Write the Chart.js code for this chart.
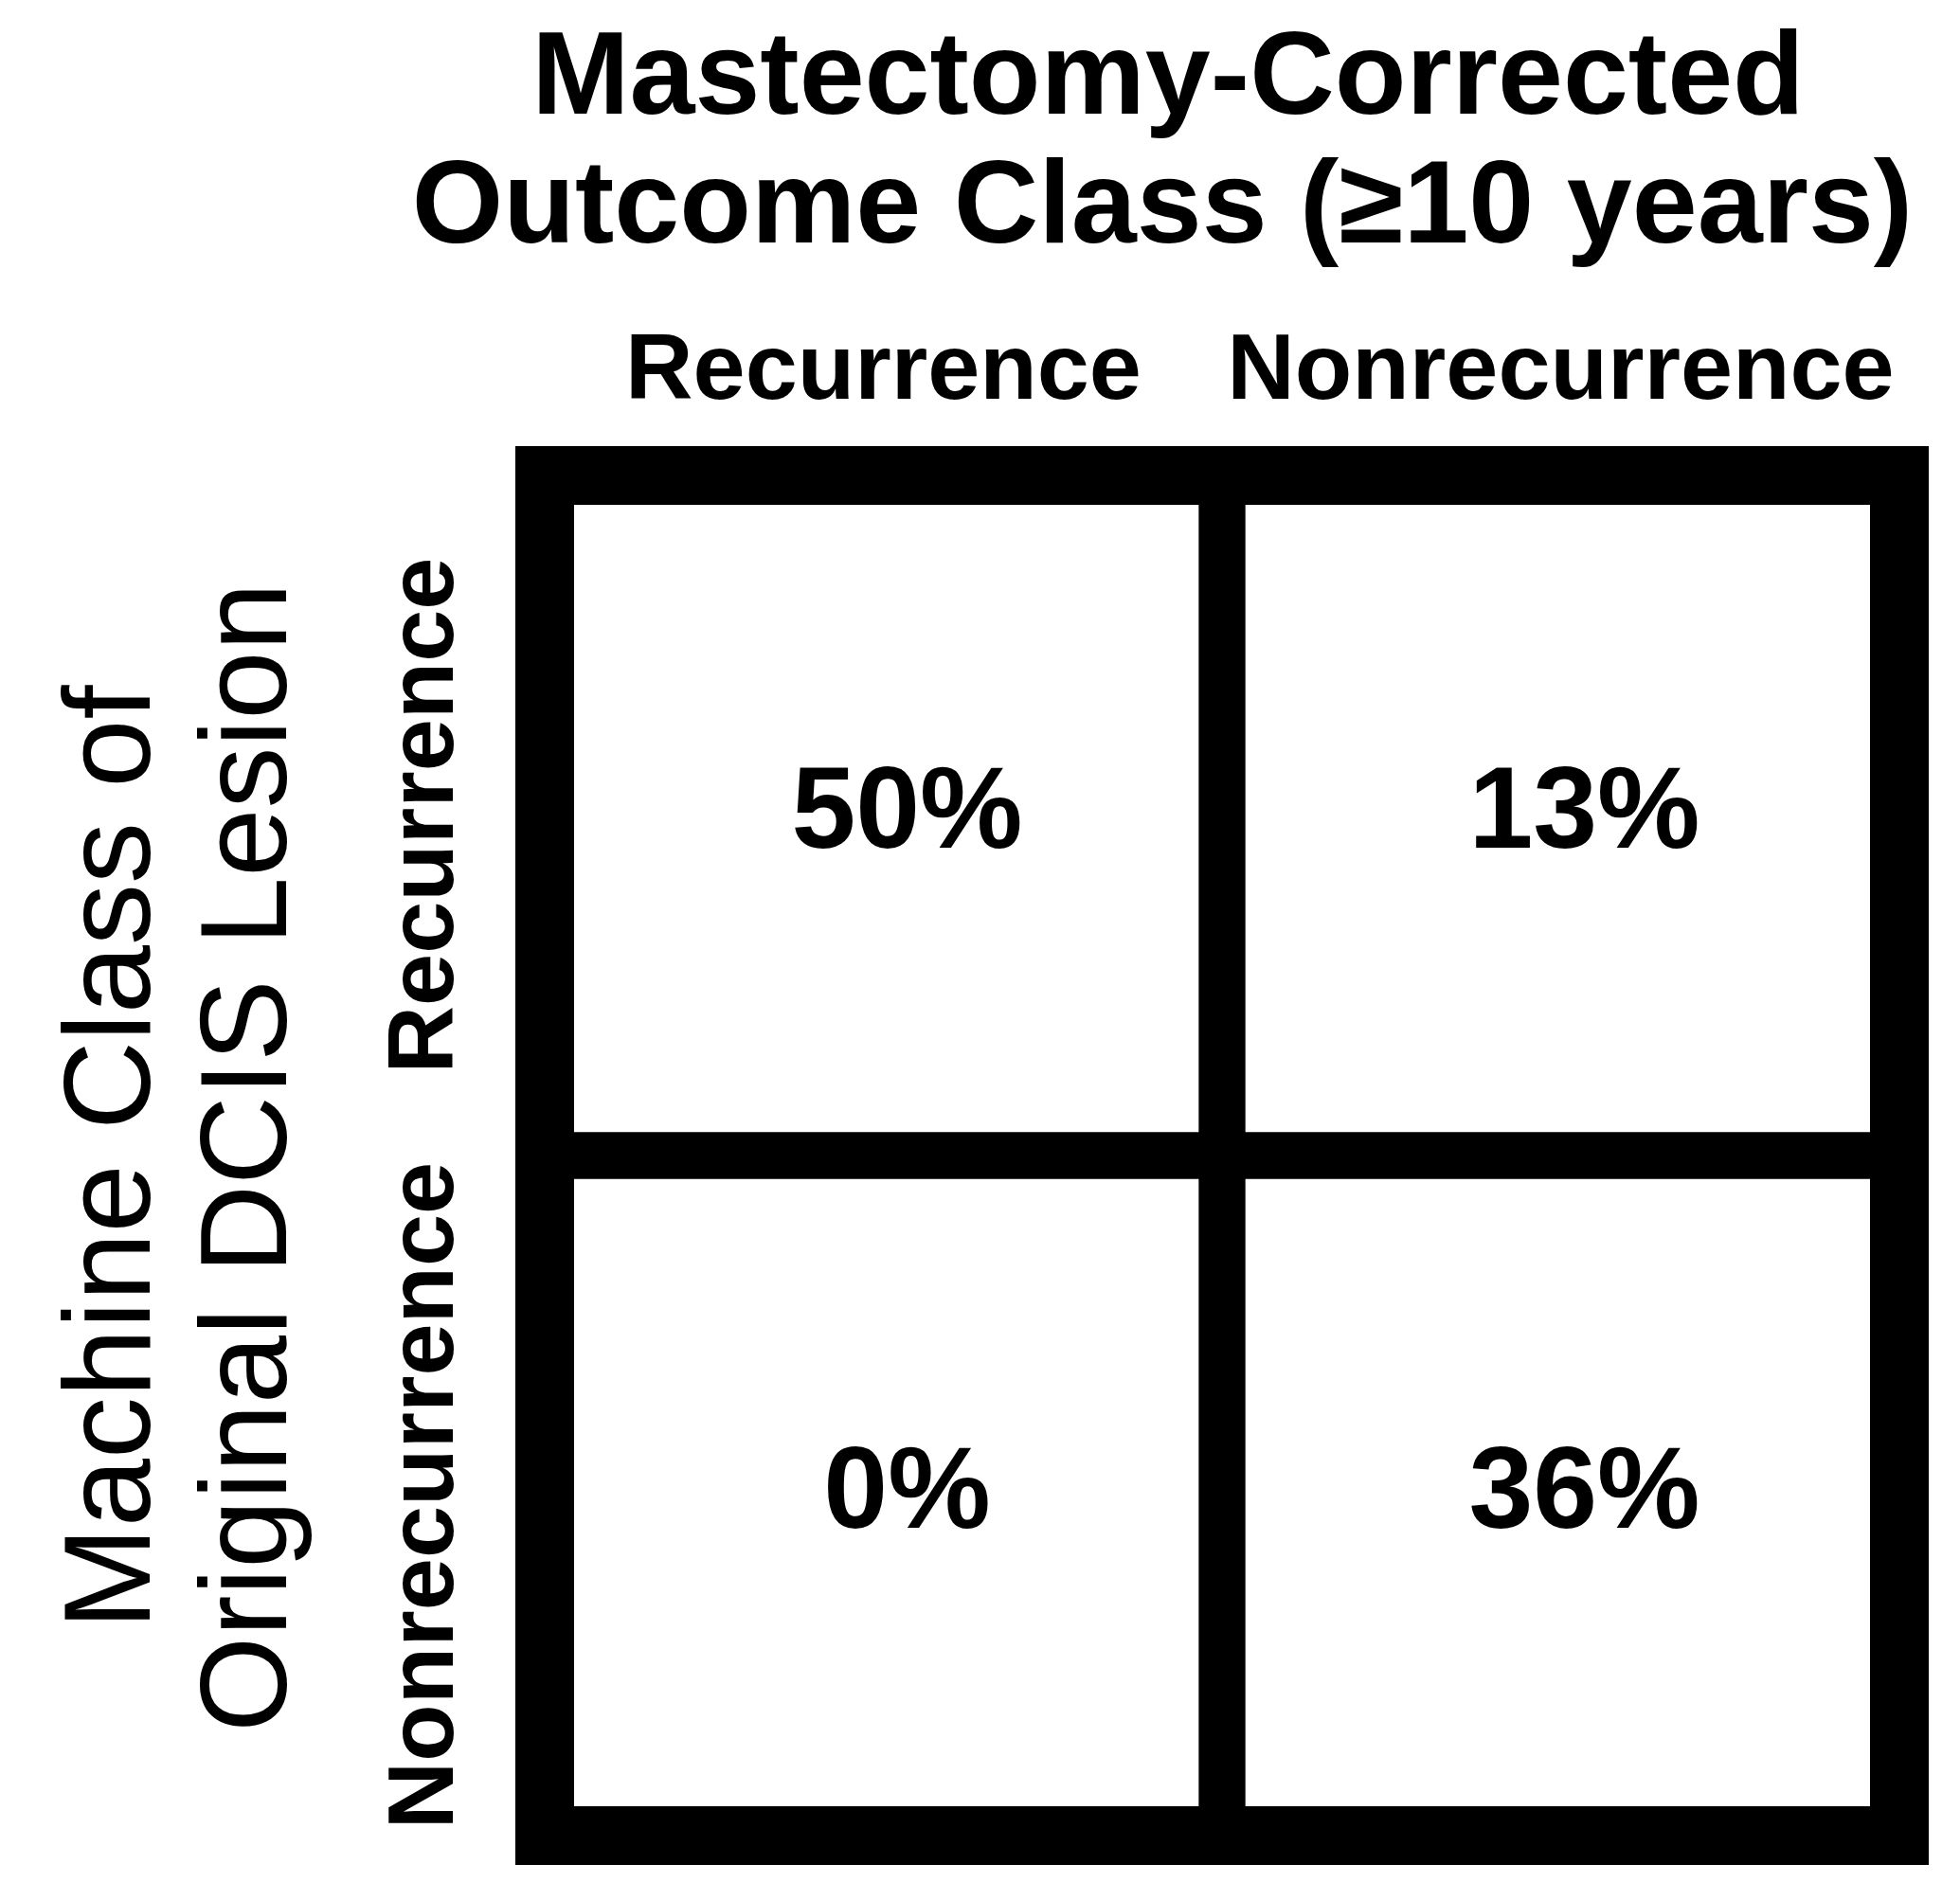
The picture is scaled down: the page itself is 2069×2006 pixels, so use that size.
<!DOCTYPE html>
<html>
<head>
<meta charset="utf-8">
<script src="https://cdn.jsdelivr.net/npm/chart.js@4"></script>
<style>
  html, body { margin: 0; padding: 0; background: #fff; }
  #wrap { width: 2069px; height: 2006px; }
</style>
</head>
<body>
<div id="wrap"><canvas id="cm"></canvas></div>
<script>
// ================= DATA =================
const outcomeClasses = ["Recurrence", "Nonrecurrence"];   // columns
const machineClasses = ["Recurrence", "Nonrecurrence"];   // rows, top to bottom
const recurrenceRow = [50, 13];      // machine: Recurrence
const nonrecurrenceRow = [0, 36];    // machine: Nonrecurrence

const FONT = "'Liberation Sans', Arial, sans-serif";

// ================= TEXT + FRAME PLUGIN =================
const confusionText = {
  id: "confusionText",
  afterDraw(chart) {
    const ctx = chart.ctx;
    const a = chart.chartArea;

    // outer frame
    ctx.save();
    ctx.strokeStyle = "#000";
    ctx.lineWidth = 62;
    ctx.strokeRect(a.left, a.top, a.right - a.left, a.bottom - a.top);

    ctx.fillStyle = "#000";
    ctx.textAlign = "center";
    ctx.textBaseline = "middle";

    // title
    ctx.font = "bold 124px " + FONT;
    ctx.fillText("Mastectomy-Corrected", 1233, 86);
    ctx.fillText("Outcome Class (\u226510 years)", 1227, 222);

    const xs = chart.scales.x;
    const ys = chart.scales.y;
    const colX = outcomeClasses.map((c, i) => xs.getPixelForValue(i));
    const rowY = [ys.getPixelForValue(1.5), ys.getPixelForValue(0.5)];

    // column headers
    ctx.font = "bold 99px " + FONT;
    outcomeClasses.forEach((c, i) => ctx.fillText(c, colX[i], 394));

    // row headers
    machineClasses.forEach((r, i) => {
      ctx.save();
      ctx.translate(451, rowY[i]);
      ctx.rotate(-Math.PI / 2);
      ctx.fillText(r, 0, 0);
      ctx.restore();
    });

    // left axis title
    ctx.save();
    ctx.translate(0, 1222);
    ctx.rotate(-Math.PI / 2);
    ctx.font = "130px " + FONT;
    ctx.fillText("Machine Class of", 0, 122);
    ctx.fillText("Original DCIS Lesion", 0, 266);
    ctx.restore();

    // cell values
    ctx.font = "bold 122px " + FONT;
    [recurrenceRow, nonrecurrenceRow].forEach((row, r) => {
      row.forEach((v, c) => ctx.fillText(v + "%", colX[c] + 25, rowY[r]));
    });
    ctx.restore();
  }
};

// ================= CHART =================
new Chart(document.getElementById("cm"), {
  type: "bar",
  data: {
    labels: outcomeClasses,
    datasets: [
      { label: machineClasses[1], data: nonrecurrenceRow.map(() => 1) },
      { label: machineClasses[0], data: recurrenceRow.map(() => 1) }
    ].map(d => Object.assign(d, {
      backgroundColor: "#fff",
      borderColor: "#000",
      borderWidth: 25,
      borderSkipped: false,
      barPercentage: 1,
      categoryPercentage: 1
    }))
  },
  options: {
    responsive: true,
    maintainAspectRatio: false,
    animation: false,
    layout: { padding: { left: 575, right: 64, top: 502, bottom: 68 } },
    plugins: { legend: { display: false }, tooltip: { enabled: false } },
    scales: {
      x: { stacked: true, display: false },
      y: { stacked: true, display: false, min: 0, max: 2 }
    }
  },
  plugins: [confusionText]
});
</script>
</body>
</html>
